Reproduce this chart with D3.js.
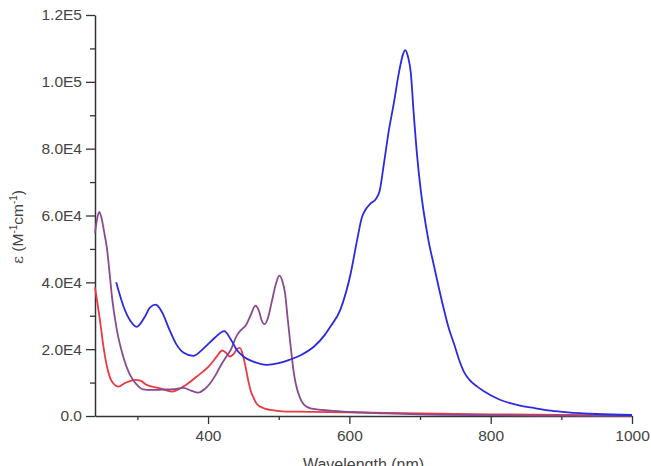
<!DOCTYPE html>
<html>
<head>
<meta charset="utf-8">
<script src="https://cdn.jsdelivr.net/npm/d3@7"></script>
<style>
  body { margin: 0; background: #fff; }
  svg text { font-family: "Liberation Sans", Arial, sans-serif; }
</style>
</head>
<body>
<div id="chart"></div>
<script>
// wavelength (nm) / extinction coefficient
var blueNm  = [270, 280, 290, 299, 310, 318, 326, 335, 345, 355, 365, 379, 390, 400, 410, 423, 432, 440, 450, 465, 483, 500, 515, 531, 550, 565, 573, 587, 602, 611, 618, 623, 630, 637, 643, 649, 656, 663, 670, 676, 679, 683, 687, 691, 696, 701, 706, 712, 720, 727, 734, 741, 748, 755, 762, 770, 781, 800, 814, 840, 861, 885, 909, 950, 1000];
var blueEps = [40000, 33000, 28500, 26700, 29500, 32500, 33300, 31000, 26000, 21500, 19000, 18000, 19500, 21500, 23500, 25400, 23000, 20000, 17800, 16200, 15300, 15800, 16800, 18200, 20800, 24200, 26700, 31700, 42800, 52700, 59600, 61800, 63600, 64800, 67500, 75700, 85600, 93700, 102600, 108300, 109500, 107500, 102600, 90700, 77600, 67600, 60000, 52500, 44700, 38000, 31700, 26000, 21700, 17000, 13300, 10800, 8800, 6200, 4800, 3200, 2400, 1600, 1100, 600, 300];

var purpleNm  = [240, 243, 246, 249, 253, 257, 261, 264, 271, 280, 288, 294, 300, 308, 320, 335, 351, 365, 376, 386, 395, 403, 410, 417, 425, 432, 441, 447, 453, 460, 467, 472, 476, 480, 485, 490, 496, 501, 505, 509, 513, 517, 521, 524, 530, 536, 545, 573, 600, 650, 700, 800, 900, 1000];
var purpleEps = [54800, 59000, 61100, 59500, 55000, 50000, 42000, 35700, 25700, 17750, 13000, 10800, 9200, 8000, 7800, 7900, 8000, 8400, 7600, 7000, 8000, 9800, 12000, 14750, 17500, 19750, 24200, 25800, 27000, 30000, 33000, 31500, 28500, 27500, 29500, 34000, 39500, 42000, 40500, 36700, 28500, 20700, 13500, 9800, 5500, 3300, 2300, 1600, 1200, 800, 500, 250, 100, 50];

var redNm  = [240, 244, 247, 252, 257, 264, 273, 283, 297, 305, 313, 332, 349, 365, 384, 403, 413, 420, 425, 431, 436, 441, 445, 449, 453, 457, 460, 465, 469, 478, 488, 505, 526, 600, 700, 800, 900, 1000];
var redEps = [38500, 33000, 28700, 20700, 14750, 10300, 8800, 9900, 10800, 10500, 9300, 8300, 7300, 8800, 11800, 15300, 18000, 19600, 19000, 17800, 18500, 20000, 20400, 18500, 14800, 10500, 7800, 5200, 3600, 2400, 1800, 1400, 1300, 1100, 800, 500, 350, 250];

var xMajor = [400, 600, 800, 1000];
var xMinor = [300, 500, 700, 900];
var yMajor = [0, 20000, 40000, 60000, 80000, 100000, 120000];
var yMajorLabels = ["0.0", "2.0E4", "4.0E4", "6.0E4", "8.0E4", "1.0E5", "1.2E5"];
var yMinor = [10000, 30000, 50000, 70000, 90000, 110000];

var W = 651, H = 466;
var margin = {top: 15, right: 19, bottom: 50, left: 95};
var width = W - margin.left - margin.right;
var height = H - margin.top - margin.bottom;

var svg = d3.select("#chart").append("svg")
    .attr("width", W)
    .attr("height", H);

var g = svg.append("g")
    .attr("transform", "translate(" + margin.left + "," + margin.top + ")");

var x = d3.scaleLinear().domain([240, 1000]).range([0, width]);
var y = d3.scaleLinear().domain([0, 120000]).range([height, 0]);

var axisColor = "#333";
var textColor = "#444";

// minor ticks
g.append("g")
    .attr("transform", "translate(0," + height + ")")
    .call(d3.axisBottom(x).tickValues(xMinor).tickSize(4).tickFormat(""))
    .call(function(a){ a.select(".domain").remove(); });
g.append("g")
    .call(d3.axisLeft(y).tickValues(yMinor).tickSize(5).tickFormat(""))
    .call(function(a){ a.select(".domain").remove(); });

var xAxis = g.append("g")
    .attr("transform", "translate(0," + height + ")")
    .call(d3.axisBottom(x).tickValues(xMajor).tickSize(8).tickSizeOuter(0).tickPadding(6).tickFormat(d3.format("d")));

var yAxis = g.append("g")
    .call(d3.axisLeft(y).tickValues(yMajor).tickSize(9).tickSizeOuter(0).tickPadding(4)
        .tickFormat(function(d, i){ return yMajorLabels[i]; }));

svg.selectAll(".tick line").attr("stroke", axisColor).attr("stroke-width", 1.3);
svg.selectAll(".domain").attr("stroke", axisColor).attr("stroke-width", 1.5);
svg.selectAll(".tick text")
    .attr("fill", textColor)
    .style("font-size", "15.5px");

// spectra
var line = d3.line()
    .x(function(d){ return x(d[0]); })
    .y(function(d){ return y(d[1]); })
    .curve(d3.curveMonotoneX);

var series = [
    {nm: redNm, eps: redEps, color: "#ea3a40"},
    {nm: purpleNm, eps: purpleEps, color: "#8a4a92"},
    {nm: blueNm, eps: blueEps, color: "#2a2ae0"}
];

series.forEach(function(s){
    var pts = s.nm.map(function(v, i){ return [v, s.eps[i]]; });
    g.append("path")
        .datum(pts)
        .attr("fill", "none")
        .attr("stroke", s.color)
        .attr("stroke-width", 1.8)
        .attr("stroke-linejoin", "round")
        .attr("d", line);
});

// axis titles
svg.append("text")
    .attr("x", margin.left + width / 2)
    .attr("y", 470)
    .attr("text-anchor", "middle")
    .attr("fill", textColor)
    .style("font-size", "16px")
    .text("Wavelength (nm)");

var yt = svg.append("text")
    .attr("transform", "translate(23,227) rotate(-90)")
    .attr("text-anchor", "middle")
    .attr("fill", textColor)
    .style("font-size", "15.5px");
yt.append("tspan").style("font-family", "'DejaVu Serif', serif").text("\u03b5");
yt.append("tspan").text(" (M");
yt.append("tspan").attr("dy", -6).style("font-size", "10px").text("-1");
yt.append("tspan").attr("dy", 6).text("cm");
yt.append("tspan").attr("dy", -6).style("font-size", "10px").text("-1");
yt.append("tspan").attr("dy", 6).text(")");
</script>
</body>
</html>
